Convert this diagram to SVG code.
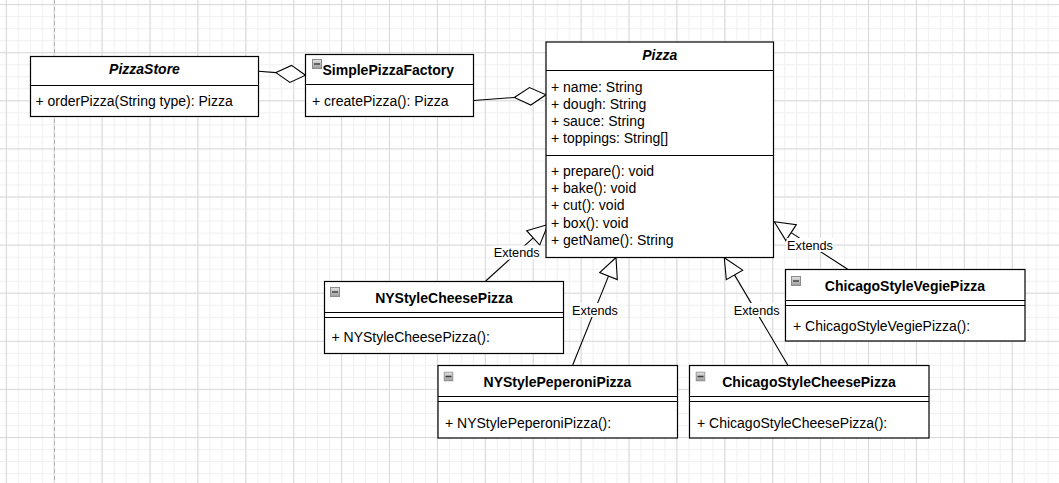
<svg xmlns="http://www.w3.org/2000/svg" width="1059" height="483" viewBox="0 0 1059 483">
<style>
  .box { fill: #ffffff; stroke: #000000; stroke-width: 1.2; }
  .div { stroke: #000000; stroke-width: 1.1; fill: none; }
  .t { font-family: "Liberation Sans", Arial, sans-serif; font-size: 14px; fill: #000000; }
  .title { font-weight: bold; text-anchor: middle; }
  .ital { font-style: italic; }
  .lbl { font-family: "Liberation Sans", Arial, sans-serif; font-size: 12.7px; fill: #000000; text-anchor: middle; }
  .edge { stroke: #000000; stroke-width: 1.1; fill: none; }
  .head { stroke: #000000; stroke-width: 1.1; fill: #ffffff; }
  .lblbg { fill: #ffffff; }
</style>
<defs>
  <linearGradient id="icg" x1="0" y1="0" x2="0" y2="1">
    <stop offset="0" stop-color="#e2e2e2"/>
    <stop offset="1" stop-color="#9c9c9c"/>
  </linearGradient>
  <pattern id="minor" patternUnits="userSpaceOnUse" x="5.8" y="4.1" width="11.975" height="12.025">
    <path d="M0.5 0 V12.025 M0 0.5 H11.975" stroke="#f1f1f1" stroke-width="1.3" fill="none"/>
  </pattern>
  <pattern id="major" patternUnits="userSpaceOnUse" x="5.8" y="4.1" width="47.9" height="48.1">
    <path d="M0.5 0 V48.1 M0 0.5 H47.9" stroke="#d9d9d9" stroke-width="1" fill="none"/>
  </pattern>
  <symbol id="icon" viewBox="0 0 10 10">
    <rect x="0.5" y="0.5" width="9" height="9" fill="url(#icg)" stroke="#8c8c8c" stroke-width="1"/>
    <line x1="2" y1="5" x2="8" y2="5" stroke="#3a3a3a" stroke-width="1.4"/>
  </symbol>
</defs>

<g id="background">
  <rect x="0" y="0" width="1059" height="483" fill="#ffffff"/>
  <rect x="0" y="0" width="1059" height="483" fill="url(#minor)"/>
  <rect x="0" y="0" width="1059" height="483" fill="url(#major)"/>
  <line x1="54.5" y1="0" x2="54.5" y2="483" stroke="#b4b4b4" stroke-width="1" stroke-dasharray="4 3"/>
</g>

<g id="connectors">
  <!-- PizzaStore <>- SimplePizzaFactory -->
  <line class="edge" x1="258.5" y1="71.3" x2="276" y2="72.6"/>
  <polygon class="head" points="276,72.6 291.5,65.4 305.5,75.2 289.9,82.4"/>
  <!-- SimplePizzaFactory <>- Pizza -->
  <line class="edge" x1="473.5" y1="100.5" x2="514.3" y2="97.5"/>
  <polygon class="head" points="514.3,97.5 529.5,87.5 546,94.8 530.8,105"/>
  <!-- NYStyleCheesePizza -> Pizza -->
  <line class="edge" x1="485.7" y1="281" x2="533.2" y2="237.9"/>
  <polygon class="head" points="548,224.5 539.7,245.1 526.7,230.7"/>
  <!-- NYStylePeperoniPizza -> Pizza -->
  <line class="edge" x1="572.7" y1="365" x2="608.5" y2="276.1"/>
  <polygon class="head" points="616,257.5 617.3,279.6 599.7,272.5"/>
  <!-- ChicagoStyleCheesePizza -> Pizza -->
  <line class="edge" x1="787.7" y1="365" x2="734.5" y2="274.9"/>
  <polygon class="head" points="724.3,257.7 742.7,270.1 726.3,279.7"/>
  <!-- ChicagoStyleVegiePizza -> Pizza -->
  <line class="edge" x1="847.7" y1="269.3" x2="791.1" y2="232.6"/>
  <polygon class="head" points="774.3,221.7 796.3,224.6 785.9,240.6"/>
  <!-- labels -->
  <rect class="lblbg" x="493" y="245.5" width="47" height="14"/>
  <text class="lbl" x="516.7" y="257">Extends</text>
  <rect class="lblbg" x="571.5" y="303" width="47" height="14"/>
  <text class="lbl" x="595" y="314.5">Extends</text>
  <rect class="lblbg" x="733" y="303" width="47" height="14"/>
  <text class="lbl" x="756.7" y="314.5">Extends</text>
  <rect class="lblbg" x="786.5" y="238" width="47" height="14"/>
  <text class="lbl" x="810" y="249.5">Extends</text>
</g>

<g id="PizzaStore">
  <rect class="box" x="30.5" y="56.5" width="228" height="60"/>
  <line class="div" x1="30.5" y1="85.5" x2="258.5" y2="85.5"/>
  <text class="t title ital" x="144.5" y="74">PizzaStore</text>
  <text class="t" x="35.5" y="106">+ orderPizza(String type): Pizza</text>
</g>

<g id="SimplePizzaFactory">
  <rect class="box" x="305.5" y="54.5" width="168" height="62"/>
  <line class="div" x1="305.5" y1="84.5" x2="473.5" y2="84.5"/>
  <use href="#icon" x="312" y="59" width="10" height="10"/>
  <text class="t" x="322.5" y="75" font-weight="bold">SimplePizzaFactory</text>
  <text class="t" x="312" y="106">+ createPizza(): Pizza</text>
</g>

<g id="Pizza">
  <rect class="box" x="546" y="42" width="227.5" height="215.5"/>
  <line class="div" x1="546" y1="70.5" x2="773.5" y2="70.5"/>
  <line class="div" x1="546" y1="155.5" x2="773.5" y2="155.5"/>
  <text class="t title ital" x="659.8" y="59.5">Pizza</text>
  <text class="t" x="551" y="92">+ name: String</text>
  <text class="t" x="551" y="109">+ dough: String</text>
  <text class="t" x="551" y="126">+ sauce: String</text>
  <text class="t" x="551" y="143">+ toppings: String[]</text>
  <text class="t" x="551" y="176">+ prepare(): void</text>
  <text class="t" x="551" y="193">+ bake(): void</text>
  <text class="t" x="551" y="210">+ cut(): void</text>
  <text class="t" x="551" y="227.5">+ box(): void</text>
  <text class="t" x="551" y="244.5">+ getName(): String</text>
</g>

<g id="NYStyleCheesePizza">
  <rect class="box" x="324.5" y="281.5" width="239" height="72"/>
  <line class="div" x1="324.5" y1="312.5" x2="563.5" y2="312.5"/>
  <line class="div" x1="324.5" y1="317.5" x2="563.5" y2="317.5"/>
  <use href="#icon" x="330" y="287" width="10" height="10"/>
  <text class="t title" x="444" y="302.5">NYStyleCheesePizza</text>
  <text class="t" x="331.5" y="342">+ NYStyleCheesePizza():</text>
</g>

<g id="NYStylePeperoniPizza">
  <rect class="box" x="438" y="365.5" width="239.5" height="72.5"/>
  <line class="div" x1="438" y1="396.5" x2="677.5" y2="396.5"/>
  <line class="div" x1="438" y1="401.5" x2="677.5" y2="401.5"/>
  <use href="#icon" x="443.5" y="371.5" width="10" height="10"/>
  <text class="t title" x="557.5" y="386.5">NYStylePeperoniPizza</text>
  <text class="t" x="445" y="427.5">+ NYStylePeperoniPizza():</text>
</g>

<g id="ChicagoStyleCheesePizza">
  <rect class="box" x="689.5" y="365.5" width="239.5" height="72.5"/>
  <line class="div" x1="689.5" y1="396.5" x2="929" y2="396.5"/>
  <line class="div" x1="689.5" y1="401.5" x2="929" y2="401.5"/>
  <use href="#icon" x="695.5" y="371.5" width="10" height="10"/>
  <text class="t title" x="809" y="386.5">ChicagoStyleCheesePizza</text>
  <text class="t" x="697" y="427.5">+ ChicagoStyleCheesePizza():</text>
</g>

<g id="ChicagoStyleVegiePizza">
  <rect class="box" x="785.5" y="269.5" width="239.5" height="71.5"/>
  <line class="div" x1="785.5" y1="300.5" x2="1025" y2="300.5"/>
  <line class="div" x1="785.5" y1="305.5" x2="1025" y2="305.5"/>
  <use href="#icon" x="791" y="276" width="10" height="10"/>
  <text class="t title" x="905" y="290.5">ChicagoStyleVegiePizza</text>
  <text class="t" x="793" y="330.5">+ ChicagoStyleVegiePizza():</text>
</g>
</svg>
